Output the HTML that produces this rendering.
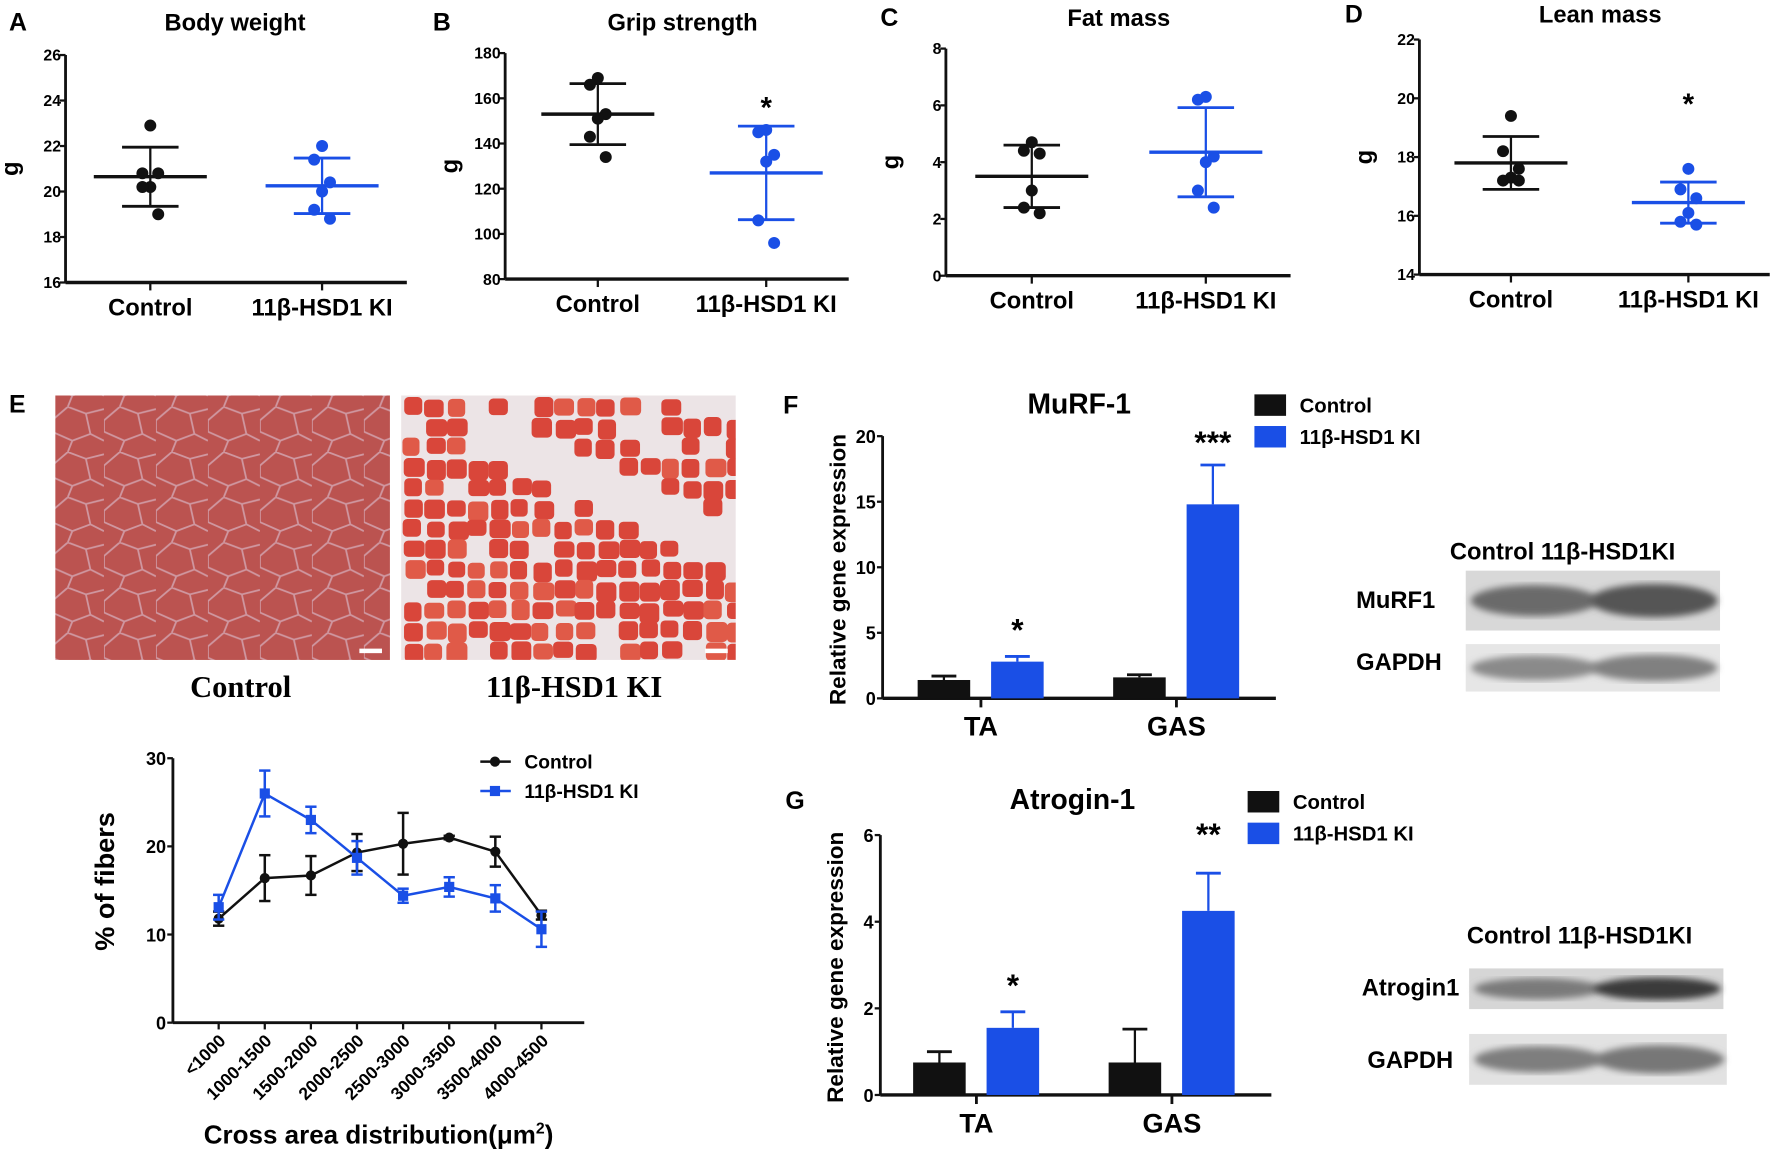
<!DOCTYPE html>
<html><head><meta charset="utf-8"><style>
html,body{margin:0;padding:0;background:#fff}
svg{display:block}
text{font-family:"Liberation Sans",sans-serif;font-weight:bold}
</style></head><body>
<svg id="fig" xmlns="http://www.w3.org/2000/svg" width="1772" height="1156" viewBox="0 0 1568 1023" preserveAspectRatio="none">
<defs>
<pattern id="ctlPat" width="46" height="40" patternUnits="userSpaceOnUse">
<rect width="46" height="40" fill="#b9514d"/>
<path d="M0 12 L14 0 M14 0 L30 6 L46 2 M30 6 L34 24 L46 30 M34 24 L18 30 L14 40 M18 30 L0 22 M0 22 L0 12" stroke="#d8b8c8" stroke-width="1.6" fill="none"/>
</pattern>
<clipPath id="kiClip"><rect x="355" y="350" width="296" height="234"/></clipPath>
<filter id="blur"><feGaussianBlur stdDeviation="3"/></filter>
</defs>
<g id="root"></g>
</svg>
<script>
// ---------- data ----------
const scatterTitles = ["Body weight","Grip strength","Fat mass","Lean mass"];
const scatterLetters = ["A","B","C","D"];
const scatterGroups = ["Control","11β-HSD1 KI"];
const bwControl = [22.9,20.8,20.8,20.2,20.2,19.0];
const bwKI = [22.0,21.4,20.4,20.0,19.2,18.8];
const bwMean = [20.65,20.25];
const bwSD = [1.3,1.22];
const gsControl = [169,166,153,151,143,134];
const gsKI = [146,145,135,132,106,96];
const gsMean = [153,127];
const gsSD = [13.5,20.7];
const fmControl = [4.7,4.4,4.3,3.0,2.4,2.2];
const fmKI = [6.3,6.2,4.2,4.0,3.0,2.4];
const fmMean = [3.5,4.35];
const fmSD = [1.1,1.57];
const lmControl = [19.4,18.2,17.6,17.3,17.2,17.2];
const lmKI = [17.6,16.9,16.6,16.1,15.8,15.7];
const lmMean = [17.8,16.45];
const lmSD = [0.9,0.7];
const bwTicks = [16,18,20,22,24,26];
const gsTicks = [80,100,120,140,160,180];
const fmTicks = [0,2,4,6,8];
const lmTicks = [14,16,18,20,22];
const scatterStars = ["","*","","*"];

const csaCategories = ["<1000","1000-1500","1500-2000","2000-2500","2500-3000","3000-3500","3500-4000","4000-4500"];
const csaControl = [11.8,16.4,16.7,19.3,20.3,21.0,19.4,12.2];
const csaControlErr = [0.8,2.6,2.2,2.1,3.5,0.2,1.7,0.5];
const csaKI = [13.1,26.0,23.0,18.7,14.4,15.4,14.1,10.6];
const csaKIErr = [1.4,2.6,1.5,1.9,0.8,1.1,1.5,2.0];
const csaTicks = [0,10,20,30];

const geneCategories = ["TA","GAS"];
const murfControl = [1.4,1.6];
const murfControlErr = [0.3,0.2];
const murfKI = [2.8,14.8];
const murfKIErr = [0.4,3.0];
const murfTicks = [0,5,10,15,20];
const murfStars = ["*","***"];
const atroControl = [0.75,0.75];
const atroControlErr = [0.25,0.77];
const atroKI = [1.55,4.25];
const atroKIErr = [0.37,0.87];
const atroTicks = [0,2,4,6];
const atroStars = ["*","**"];

// ---------- helpers ----------
const NS="http://www.w3.org/2000/svg";
const root=document.getElementById('root');
function mk(tag,attrs,parent,txt){const e=document.createElementNS(NS,tag);for(const k in attrs)e.setAttribute(k,attrs[k]);if(txt!==undefined)e.textContent=txt;(parent||root).appendChild(e);return e;}
function lin(d0,d1,r0,r1){return v=>r0+(v-d0)*(r1-r0)/(d1-d0);}
const BLUE="#1a4fe6", BLK="#111";

// ---------- scatter panels ----------
const scatterLayouts=[
 {ax:58,xe:360,yt:48.7,yb:250,cx:[133,285],tx:208,ty:27,lx:8,sy:0},
 {ax:447,xe:751,yt:47,yb:247,cx:[529,678],tx:604,ty:27,lx:383,sy:104},
 {ax:837,xe:1142,yt:43,yb:244,cx:[913,1067],tx:990,ty:23,lx:779,sy:0},
 {ax:1256,xe:1566,yt:35,yb:243,cx:[1337,1494],tx:1416,ty:20,lx:1190,sy:101}];
const scatterData=[[bwControl,bwKI,bwMean,bwSD,bwTicks],[gsControl,gsKI,gsMean,gsSD,gsTicks],[fmControl,fmKI,fmMean,fmSD,fmTicks],[lmControl,lmKI,lmMean,lmSD,lmTicks]];
const jitter=[0,-7,7,0,-7,7];
scatterLayouts.forEach((L,i)=>{
 const [c,k,m,sd,ticks]=scatterData[i];
 const g=mk('g',{});
 
 
 const y=lin(ticks[0],ticks[ticks.length-1],L.yb,L.yt);
 const lt=mk('text',{x:L.lx,y:L.ty,'font-size':22},g,scatterLetters[i]);
 
 
 const tt=mk('text',{x:L.tx,y:L.ty,'font-size':21,'text-anchor':'middle'},g,scatterTitles[i]);
 
 
 const ya=mk('line',{x1:L.ax,x2:L.ax,y1:L.yt,y2:L.yb,stroke:BLK,'stroke-width':2.5},g);
 
 
 const xa=mk('line',{x1:L.ax,x2:L.xe,y1:L.yb,y2:L.yb,stroke:BLK,'stroke-width':3},g);
 
 
 ticks.forEach(t=>{mk('line',{x1:L.ax-5,x2:L.ax,y1:y(t),y2:y(t),stroke:BLK,'stroke-width':2},g);
  const tl=mk('text',{x:L.ax-4,y:y(t)+5,'font-size':14,'text-anchor':'end'},g,t);
  
  });
 const yt=mk('text',{x:0,y:0,'font-size':21,'text-anchor':'middle',transform:`translate(${L.ax-42},${(L.yt+L.yb)/2}) rotate(-90)`},g,'g');
 
 
 [c,k].forEach((arr,j)=>{
  const col=j?BLUE:BLK, cx=L.cx[j];
  mk('line',{x1:cx,x2:cx,y1:L.yb,y2:L.yb+7,stroke:BLK,'stroke-width':2},g);
  const cl=mk('text',{x:cx,y:L.yb+29,'font-size':21,'text-anchor':'middle'},g,scatterGroups[j]);
  
  
  const hi=y(m[j]+sd[j]), lo=y(m[j]-sd[j]);
  mk('line',{x1:cx,x2:cx,y1:hi,y2:lo,stroke:col,'stroke-width':2},g);
  mk('line',{x1:cx-25,x2:cx+25,y1:hi,y2:hi,stroke:col,'stroke-width':2.5},g);
  mk('line',{x1:cx-25,x2:cx+25,y1:lo,y2:lo,stroke:col,'stroke-width':2.5},g);
  const ml=mk('line',{x1:cx-50,x2:cx+50,y1:y(m[j]),y2:y(m[j]),stroke:col,'stroke-width':3},g);
  
  
  arr.forEach((v,n)=>{const d=mk('circle',{cx:cx+jitter[n],cy:y(v),r:5.3,fill:col},g);
   
   });
  if(j===1&&scatterStars[i]){const s=mk('text',{x:cx,y:L.sy,'font-size':26,'text-anchor':'middle'},g,scatterStars[i]);
   
   }
 });
});

// ---------- E histology ----------
(function(){
 const g=mk('g',{});
 
 
 mk('text',{x:8,y:365,'font-size':22},g,'E');
 const c=mk('rect',{x:49,y:350,width:296,height:234,fill:'url(#ctlPat)'},g);
 
 
 mk('rect',{x:49,y:350,width:296,height:234,fill:'#c05a56',opacity:0.35},g);
 mk('rect',{x:318,y:574,width:20,height:4,fill:'#fff'},g);
 const k=mk('rect',{x:355,y:350,width:296,height:234,fill:'#ece4e6'},g);
 
 
 const kg=mk('g',{'clip-path':'url(#kiClip)'},g);
 let s=7;const rnd=()=>{s=(s*9301+49297)%233280;return s/233280;};
 for(let yy=352;yy<584;yy+=18){for(let xx=357;xx<651;xx+=19){
   const r=rnd();
   const d=(yy-350)-0.45*(xx-355); // diagonal band coordinate
   const inGap=(d>-25&&d<18&&xx>410) || (xx>560&&yy<400&&r<0.5) || (r<0.07);
   if(inGap) continue;
   mk('rect',{x:xx+rnd()*3-1,y:yy+rnd()*3-1,width:15+rnd()*4,height:14+rnd()*4,rx:4,fill:r<0.3?'#e05a48':'#d9463a'},kg);}}
 mk('rect',{x:624,y:574,width:20,height:4,fill:'#fff'},g);
 const t1=mk('text',{x:213,y:617,'font-size':27,'text-anchor':'middle'},g,'Control');
 t1.setAttribute('style','font-family:"Liberation Serif",serif');
 
 
 const t2=mk('text',{x:508,y:617,'font-size':27,'text-anchor':'middle'},g,'11β-HSD1 KI');
 t2.setAttribute('style','font-family:"Liberation Serif",serif');
 
 
})();

// ---------- E line chart ----------
(function(){
 const g=mk('g',{});
 
 
 const ax=153, xe=517, yt=671, yb=905;
 const y=lin(0,30,yb,yt);
 const x=i=>193.5+i*40.8;
 mk('line',{x1:ax,x2:ax,y1:yt,y2:yb,stroke:BLK,'stroke-width':2.5},g);
 mk('line',{x1:ax,x2:xe,y1:yb,y2:yb,stroke:BLK,'stroke-width':2.5},g);
 csaTicks.forEach(t=>{mk('line',{x1:ax-5,x2:ax,y1:y(t),y2:y(t),stroke:BLK,'stroke-width':2},g);
  const l=mk('text',{x:ax-6,y:y(t)+6,'font-size':16,'text-anchor':'end'},g,t);
  
  });
 csaCategories.forEach((c,i)=>{mk('line',{x1:x(i),x2:x(i),y1:yb,y2:yb+6,stroke:BLK,'stroke-width':2},g);
  const l=mk('text',{x:0,y:0,'font-size':15.5,'text-anchor':'end',transform:`translate(${x(i)+7},${yb+17}) rotate(-45)`},g,c);
  
  });
 const yl=mk('text',{x:0,y:0,'font-size':24,'text-anchor':'middle',transform:`translate(101,780) rotate(-90)`},g,'% of  fibers');
 
 
 const xl=mk('text',{x:335,y:1012,'font-size':23,'text-anchor':'middle'},g,'');
 
 
 xl.innerHTML='Cross area distribution(μm<tspan dy="-9" font-size="14">2</tspan><tspan dy="9">)</tspan>';
 [[csaControl,csaControlErr,BLK,'control'],[csaKI,csaKIErr,BLUE,'ki']].forEach(([v,e,col,nm])=>{
  const p=mk('polyline',{points:v.map((d,i)=>x(i)+','+y(d)).join(' '),fill:'none',stroke:col,'stroke-width':2.2},g);
  
  
  v.forEach((d,i)=>{
   mk('line',{x1:x(i),x2:x(i),y1:y(d+e[i]),y2:y(d-e[i]),stroke:col,'stroke-width':2.2},g);
   mk('line',{x1:x(i)-5,x2:x(i)+5,y1:y(d+e[i]),y2:y(d+e[i]),stroke:col,'stroke-width':2.2},g);
   mk('line',{x1:x(i)-5,x2:x(i)+5,y1:y(d-e[i]),y2:y(d-e[i]),stroke:col,'stroke-width':2.2},g);
   const m= nm==='control'?mk('circle',{cx:x(i),cy:y(d),r:4.5,fill:col},g):mk('rect',{x:x(i)-4.5,y:y(d)-4.5,width:9,height:9,fill:col},g);
   
   
  });
 });
 mk('line',{x1:425,x2:452,y1:674,y2:674,stroke:BLK,'stroke-width':2.2},g);
 mk('circle',{cx:438,cy:674,r:4.5,fill:BLK},g);
 const l1=mk('text',{x:464,y:680,'font-size':17},g,'Control');
 
 
 mk('line',{x1:425,x2:452,y1:700,y2:700,stroke:BLUE,'stroke-width':2.2},g);
 mk('rect',{x:433.5,y:695.5,width:9,height:9,fill:BLUE},g);
 const l2=mk('text',{x:464,y:706,'font-size':17},g,'11β-HSD1 KI');
 
 
})();

// ---------- F & G bar charts ----------
function barPanel(o){
 const g=mk('g',{});
 
 
 const y=lin(o.ticks[0],o.ticks[o.ticks.length-1],o.yb,o.yt);
 mk('text',{x:o.lx,y:o.ty,'font-size':22},g,o.letter);
 const t=mk('text',{x:o.tx,y:o.ty,'font-size':25,'text-anchor':'middle'},g,o.title);
 
 
 mk('line',{x1:o.ax,x2:o.ax,y1:o.yt,y2:o.yb,stroke:BLK,'stroke-width':2.5},g);
 mk('line',{x1:o.ax,x2:o.xe,y1:o.yb,y2:o.yb,stroke:BLK,'stroke-width':3},g);
 o.ticks.forEach(tk=>{mk('line',{x1:o.ax-5,x2:o.ax,y1:y(tk),y2:y(tk),stroke:BLK,'stroke-width':2},g);
  const l=mk('text',{x:o.ax-6,y:y(tk)+6,'font-size':16,'text-anchor':'end'},g,tk);
  
  });
 const yl=mk('text',{x:0,y:0,'font-size':20,'text-anchor':'middle',transform:`translate(${o.ax-33},${(o.yt+o.yb)/2+2}) rotate(-90)`},g,'Relative gene expression');
 
 
 const bw=46.5;
 geneCategories.forEach((c,i)=>{
  const gx=o.gx[i];
  mk('line',{x1:gx,x2:gx,y1:o.yb,y2:o.yb+8,stroke:BLK,'stroke-width':2.5},g);
  const cl=mk('text',{x:gx,y:o.yb+33,'font-size':24,'text-anchor':'middle'},g,c);
  
  
  [[o.c,o.ce,BLK,-1],[o.k,o.ke,BLUE,1]].forEach(([v,e,col,s])=>{
   const bx= s<0? gx-56 : gx+9;
   const top=y(v[i]+e[i]);
   mk('line',{x1:bx+bw/2,x2:bx+bw/2,y1:top,y2:y(v[i]),stroke:col,'stroke-width':2},g);
   mk('line',{x1:bx+bw/2-11,x2:bx+bw/2+11,y1:top,y2:top,stroke:col,'stroke-width':2.5},g);
   const r=mk('rect',{x:bx,y:y(v[i]),width:bw,height:o.yb-y(v[i]),fill:col},g);
   
   
   if(s>0){const st=mk('text',{x:bx+bw/2,y:top-14,'font-size':28,'text-anchor':'middle'},g,o.stars[i]);
    
    
    if(o.starY&&o.starY[i])st.setAttribute('y',o.starY[i]);}
  });
 });
 mk('rect',{x:o.legx,y:o.legy,width:28,height:19,fill:BLK},g);
 mk('rect',{x:o.legx,y:o.legy+28,width:28,height:19,fill:BLUE},g);
 const a=mk('text',{x:o.legx+40,y:o.legy+16,'font-size':18},g,'Control');
 
 
 const b=mk('text',{x:o.legx+40,y:o.legy+44,'font-size':18},g,'11β-HSD1 KI');
 
 
}
barPanel({name:'panel-f-murf1-chart',letter:'F',title:'MuRF-1',lx:693,tx:955,ty:366,ax:781,xe:1129,yt:386,yb:618,gx:[868,1041],
 ticks:murfTicks,c:murfControl,ce:murfControlErr,k:murfKI,ke:murfKIErr,stars:murfStars,starY:[0,401],legx:1110,legy:349});
barPanel({name:'panel-g-atrogin1-chart',letter:'G',title:'Atrogin-1',lx:695,tx:949,ty:716,ax:779,xe:1125,yt:739,yb:969,gx:[864,1037],
 ticks:atroTicks,c:atroControl,ce:atroControlErr,k:atroKI,ke:atroKIErr,stars:atroStars,starY:[0,748],legx:1104,legy:700});

// ---------- western blots ----------
function blot(o){
 const g=mk('g',{});
 
 
 const h=mk('text',{x:o.hx,y:o.hy,'font-size':21},g,'Control 11β-HSD1KI');
 
 
 o.rows.forEach(r=>{
  const l=mk('text',{x:r.lx,y:r.ly,'font-size':21},g,r.label);
  
  
  const bg=mk('rect',{x:r.x,y:r.y,width:r.w,height:r.h,fill:r.bg},g);
  
  
  mk('ellipse',{cx:r.x+r.w*0.27,cy:r.y+r.h/2,rx:r.w*0.25,ry:r.h*0.26,fill:r.c1,filter:'url(#blur)'},g);
  mk('ellipse',{cx:r.x+r.w*0.74,cy:r.y+r.h/2,rx:r.w*0.25,ry:r.h*0.28,fill:r.c2,filter:'url(#blur)'},g);
 });
}
blot({name:'panel-f-western-blot',hx:1283,hy:495,rows:[
 {label:'MuRF1',lx:1200,ly:538,x:1297,y:505,w:225,h:53,bg:'#d8d8d8',c1:'#6a6a6a',c2:'#555'},
 {label:'GAPDH',lx:1200,ly:593,x:1297,y:570,w:225,h:42,bg:'#e6e6e6',c1:'#8a8a8a',c2:'#808080'}]});
blot({name:'panel-g-western-blot',hx:1298,hy:835,rows:[
 {label:'Atrogin1',lx:1205,ly:881,x:1300,y:857,w:225,h:36,bg:'#d6d6d6',c1:'#7a7a7a',c2:'#3a3a3a'},
 {label:'GAPDH',lx:1210,ly:945,x:1300,y:915,w:228,h:45,bg:'#e2e2e2',c1:'#7e7e7e',c2:'#777'}]});
</script>
</body></html>
